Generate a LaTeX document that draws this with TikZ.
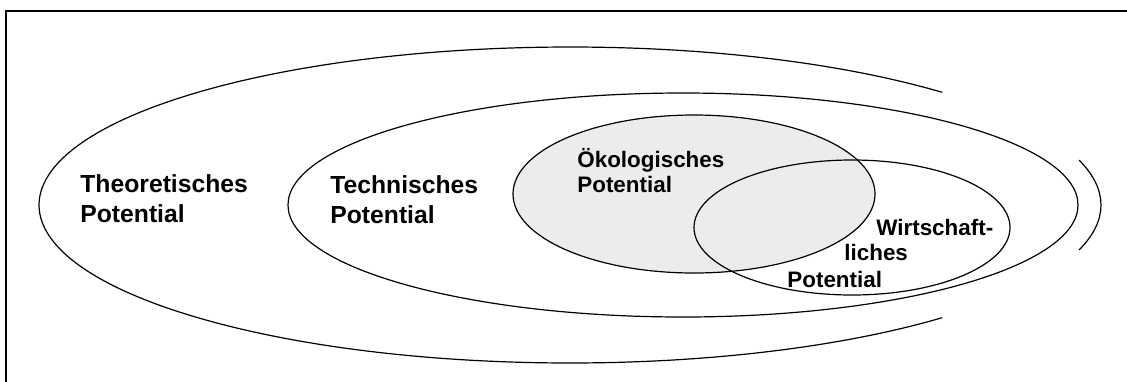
\documentclass[tikz,border=0pt]{standalone}
\usepackage{fontspec}
\setmainfont{Liberation Sans}
\usetikzlibrary{positioning}

\begin{document}
\begin{tikzpicture}[
		x=0.5pt, y=0.5pt,
		potline/.style={line width=0.6pt},
		framestyle/.style={line width=0.75pt},
		bigtext/.style={font=\fontsize{12.35}{15}\selectfont\bfseries, align=left, anchor=base west, inner sep=0pt},
		smalltext/.style={font=\fontsize{11.2}{12.5}\selectfont\bfseries, align=left, anchor=base west, inner sep=0pt}
		]
		\useasboundingbox (0,0) rectangle (1127,-381);
		
		% ==========================================
		% FRAME
		% ==========================================
		\draw[framestyle] (1135,-11) -- (6,-11) -- (6,-390);
		
		% ==========================================
		% POTENTIAL ELLIPSES
		% ==========================================
		\coordinate (theoC) at (570,-205);
		\coordinate (techC) at (683,-205);
		\coordinate (oekoC) at (694,-194);
		\coordinate (wirtC) at (852,-227.5);
		
		% Theoretisches Potential (open on the right)
		\draw[potline] (theoC) ++(45.5:531 and 158) arc[start angle=45.5, end angle=314.5, x radius=531, y radius=158];
		\draw[potline] (theoC) ++(-16.5:531 and 158) arc[start angle=-16.5, end angle=16.5, x radius=531, y radius=158];
		
		% Technisches Potential
		\draw[potline] (techC) ellipse[x radius=395, y radius=112];
		
		% Oekologisches Potential
		\draw[potline, fill=gray!15] (oekoC) ellipse[x radius=181, y radius=79];
		
		% Wirtschaftliches Potential
		\draw[potline] (wirtC) ellipse[x radius=158, y radius=67.5];
		
		% ==========================================
		% LABELS (anchored at the last line)
		% ==========================================
		\node[bigtext] (theoLabel) at (80,-222) {Theoretisches\\Potential};
		\node[bigtext] (techLabel) at (330,-223) {Technisches\\Potential};
		\node[smalltext] (oekoLabel) at (577,-192) {Ökologisches\\Potential};
		
		\node[smalltext] (wirtLabelA) at (876,-235) {Wirtschaft-};
		\node[smalltext] (wirtLabelB) at (844,-260) {liches};
		\node[smalltext] (wirtLabelC) at (787,-287) {Potential};
		
	\end{tikzpicture}
\end{document}
